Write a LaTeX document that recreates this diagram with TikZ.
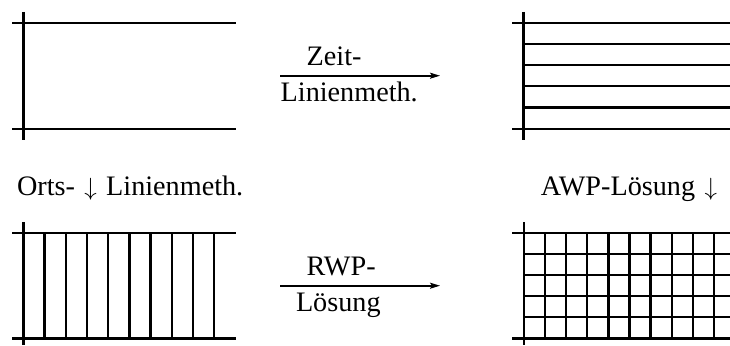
\documentclass[tikz,border=0pt]{standalone}
\usepackage{fontspec}
\setmainfont{Liberation Serif}
\usetikzlibrary{arrows.meta}
\begin{document}
\begin{tikzpicture}[x=1pt,y=-1pt,
  gridline/.style={line width=2.4pt,line cap=butt},
  maparrow/.style={line width=1.6pt,-{Stealth[length=10pt,width=6pt,inset=2pt]}},
  lbl/.style={inner sep=0pt,outer sep=0pt,font=\fontsize{28.2}{34}\selectfont}]
\useasboundingbox (0,0) rectangle (730,345);

% top left: boundary only
\draw[gridline] (23.3,12) -- (23.3,140);
\draw[gridline] (12,23) -- (236,23);
\draw[gridline] (12,129) -- (236,129);

% top right: time lines
\draw[gridline] (523.5,12) -- (523.5,140);
\draw[gridline] (512,23) -- (730,23);
\draw[gridline] (512,129) -- (730,129);
\foreach \y in {44,65,86,107.5}
  \draw[gridline] (523.5,\y) -- (730,\y);

% bottom left: space lines
\draw[gridline] (23.3,222) -- (23.3,345);
\draw[gridline] (12,232.7) -- (236,232.7);
\draw[gridline] (12,338.3) -- (236,338.3);
\foreach \i in {1,...,9}
  \draw[gridline] ({23.3+21.2*\i},232.7) -- ({23.3+21.2*\i},338.3);

% bottom right: full grid
\draw[gridline] (523.7,222) -- (523.7,345);
\draw[gridline] (512,232.7) -- (730,232.7);
\draw[gridline] (512,338.3) -- (730,338.3);
\foreach \y in {253.8,274.9,296,317.2}
  \draw[gridline] (523.7,\y) -- (730,\y);
\foreach \i in {1,...,9}
  \draw[gridline] ({523.7+21.15*\i},232.7) -- ({523.7+21.15*\i},338.3);

% arrows
\coordinate (topfrom) at (280,75.7);
\coordinate (topto) at (440,75.7);
\coordinate (botfrom) at (280,285.7);
\coordinate (botto) at (440,285.7);
\draw[maparrow] (topfrom) -- (topto);
\draw[maparrow] (botfrom) -- (botto);

% labels
\node[lbl,anchor=base west] (zeit) at (306.7,65) {Zeit-};
\node[lbl,anchor=base west] (linA) at (280.7,101.7) {Linienmeth.};
\node[lbl,anchor=base west] (rwp) at (306.7,275) {RWP-};
\node[lbl,anchor=base west] (loes) at (296,311.7) {Lösung};
\node[lbl,anchor=base west] (orts) at (17,195.7) {Orts-\,\,$\downarrow$\,\,Linienmeth.};
\node[lbl,anchor=base east] (awp) at (717,195.7) {AWP-Lösung\,\,$\downarrow$};
\end{tikzpicture}
\end{document}
